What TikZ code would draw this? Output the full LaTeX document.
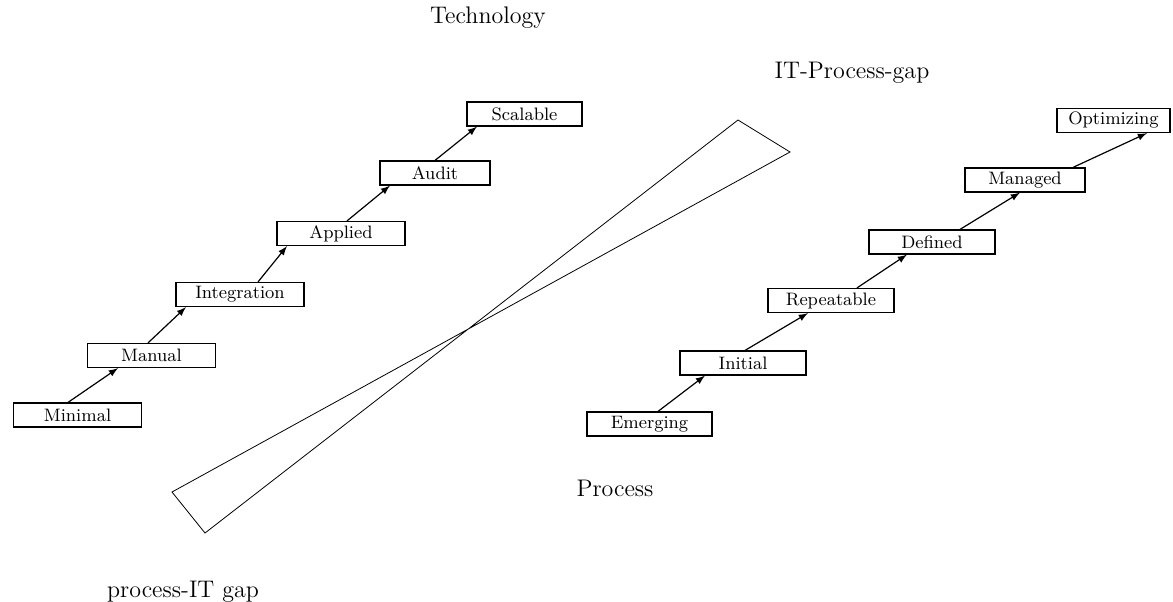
\documentclass[tikz,border=0pt]{standalone}
\usetikzlibrary{arrows}

\begin{document}
\begin{tikzpicture}[x=0.5pt,y=-0.5pt,>=latex,semithick,
  stage/.style={rectangle,draw,minimum width=64pt,minimum height=12pt,inner sep=0pt,font=\small},
  gaptext/.style={font=\large}]
\useasboundingbox (0,0) rectangle (1173,601);
% technology steps
\node[stage] (M) at (77.5,415) {Minimal};
\node[stage] (N) at (151.5,355.5) {Manual};
\node[stage] (I) at (240,294.5) {Integration};
\node[stage] (A) at (341,233.5) {Applied};
\node[stage, minimum width=55pt] (U) at (435,173) {Audit};
\node[stage, minimum width=57.5pt] (S) at (524.5,114) {Scalable};
% process steps
\node[stage, minimum width=62.5pt] (E) at (649.5,424) {Emerging};
\node[stage, minimum width=63pt] (In) at (743,363) {Initial};
\node[stage, minimum width=63pt] (R) at (831,300.5) {Repeatable};
\node[stage, minimum width=63pt] (D) at (932,242) {Defined};
\node[stage, minimum width=60pt] (Ma) at (1025,180) {Managed};
\node[stage, minimum width=56.5pt] (O) at (1113.5,120.5) {Optimizing};
% captions
\node[gaptext] (tech) at (488,18) {Technology};
\node[gaptext] (itp) at (852,73) {IT-Process-gap};
\node[gaptext] (proc) at (615,488) {Process};
\node[gaptext] (pit) at (183,592) {process-IT gap};
\path[->]
([xshift=-4.75pt]M.north) edge ([xshift=-16.75pt]N.south)
([xshift=-1.75pt]N.north) edge ([xshift=-27pt]I.south)
([xshift=9pt]I.north) edge ([xshift=-27pt]A.south)
([xshift=3pt]A.north) edge ([xshift=-22.5pt]U.south)
(U.north) edge ([xshift=-23.75pt]S.south)
([xshift=4.25pt]E.north) edge ([xshift=-19pt]In.south)
([xshift=1pt]In.north) edge ([xshift=-11.5pt]R.south)
([xshift=13pt]R.north) edge ([xshift=-12.5pt]D.south)
([xshift=14pt]D.north) edge ([xshift=-2.5pt]Ma.south)
([xshift=24pt]Ma.north) edge ([xshift=16.75pt]O.south);
% the gap
\draw[thin] (172,492) -- (790,152) -- (738,120) -- (205,533) -- cycle;
\end{tikzpicture}
\end{document}
